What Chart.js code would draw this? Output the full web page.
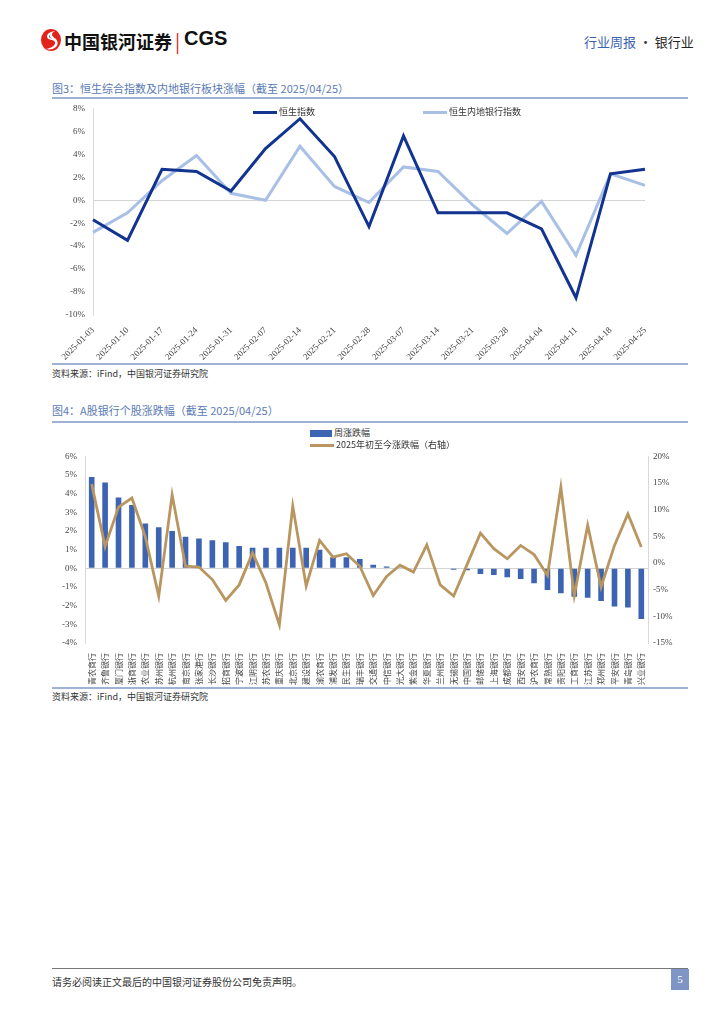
<!DOCTYPE html>
<html>
<head>
<meta charset="utf-8">
<script src="https://cdn.jsdelivr.net/npm/chart.js@4.4.1/dist/chart.umd.min.js"></script>
<style>
  body { margin: 0; width: 724px; height: 1024px; position: relative; overflow: hidden; background: #fff;
         font-family: "Noto Sans CJK SC", sans-serif; color: #222; }
  .abs { position: absolute; white-space: nowrap; }
  .fig-title { font-size: 11px; color: #5a7ab5; }
  .rule { position: absolute; height: 1.5px; background: #9fb2d6; }
  .src { font-size: 9px; color: #333; }
  .lg { font-size: 9px; color: #333; }
  .sw-line { display: inline-block; width: 24px; height: 3px; vertical-align: middle; margin-right: 2px; }
  .sw-bar { display: inline-block; width: 22px; height: 7px; vertical-align: middle; margin-right: 2px; }
</style>
</head>
<body>

<!-- en-tête -->
<svg class="abs" style="left:40px;top:28px" width="22" height="24" viewBox="0 0 22 24">
  <ellipse cx="11" cy="12" rx="10" ry="11" fill="#e2231a"/>
  <path d="M15 3 C6 4, 4 11, 12 12 C18 13, 15 20, 6 21 C14 23, 21 17, 16 11 C12 8, 10 6, 15 3 Z" fill="#fff"/>
  <path d="M13 5 C8 7, 8 10, 12 10.5 C8 9, 10 6, 13 5 Z" fill="#1b3f94"/>
</svg>
<div class="abs" style="left:64px;top:28px;font-size:18px;font-weight:bold;color:#111">中国银河证券</div>
<div class="abs" style="left:175px;top:27px;font-size:19px;color:#e2231a">|</div>
<div class="abs" style="left:184px;top:27px;font-size:20px;font-weight:bold;color:#111;font-family:'Liberation Sans',sans-serif">CGS</div>
<div class="abs" style="left:584px;top:32px;font-size:13px;color:#3a62b0">行业周报 <span style="color:#333">·</span> <span style="color:#222">银行业</span></div>

<!-- figure 3 -->
<div class="abs fig-title" style="left:52px;top:80px">图3：恒生综合指数及内地银行板块涨幅（截至 2025/04/25）</div>
<div class="rule" style="left:52px;top:97px;width:636px"></div>
<canvas id="hsChart" class="abs" style="left:40px;top:95px" width="630" height="268"></canvas>
<div class="abs lg" style="left:253px;top:105px"><span class="sw-line" id="lg1a"></span>恒生指数</div>
<div class="abs lg" style="left:423px;top:105px"><span class="sw-line" id="lg1b"></span>恒生内地银行指数</div>
<div class="rule" style="left:52px;top:363px;width:636px"></div>
<div class="abs src" style="left:52px;top:367px">资料来源：iFind，中国银河证券研究院</div>

<!-- figure 4 -->
<div class="abs fig-title" style="left:52px;top:402px">图4：A股银行个股涨跌幅（截至 2025/04/25）</div>
<div class="rule" style="left:52px;top:421px;width:636px"></div>
<canvas id="bankChart" class="abs" style="left:40px;top:443px" width="640" height="243"></canvas>
<div class="abs lg" style="left:310px;top:426px"><span class="sw-bar" id="lg2a"></span>周涨跌幅</div>
<div class="abs lg" style="left:310px;top:438px"><span class="sw-line" id="lg2b"></span>2025年初至今涨跌幅（右轴）</div>
<div class="rule" style="left:52px;top:687px;width:636px"></div>
<div class="abs src" style="left:52px;top:690px">资料来源：iFind，中国银河证券研究院</div>

<!-- pied de page -->
<div class="abs" style="left:52px;top:968px;width:636px;height:1px;background:#777"></div>
<div class="abs" style="left:52px;top:974px;font-size:10px;color:#333">请务必阅读正文最后的中国银河证券股份公司免责声明。</div>
<div class="abs" style="left:671px;top:969px;width:18px;height:21px;background:#7f95c6;color:#fff;font-size:11px;text-align:center;line-height:21px;font-family:'Liberation Serif',serif">5</div>

<script>
// données fig.3 : variation hebdo (%)
const weekDates = ['2025-01-03','2025-01-10','2025-01-17','2025-01-24','2025-01-31','2025-02-07','2025-02-14',
  '2025-02-21','2025-02-28','2025-03-07','2025-03-14','2025-03-21','2025-03-28','2025-04-04','2025-04-11',
  '2025-04-18','2025-04-25'];
const hsiChange = [-1.7, -3.5, 2.7, 2.5, 0.8, 4.5, 7.1, 3.8, -2.3, 5.6, -1.1, -1.1, -1.1, -2.5, -8.5, 2.3, 2.7];
const hsBankChange = [-2.8, -1.1, 1.7, 3.9, 0.6, 0.0, 4.7, 1.2, -0.2, 2.9, 2.5, -0.4, -2.9, -0.1, -4.8, 2.3, 1.3];
const hsTicks = { min: -10, max: 8, step: 2 };

// données fig.4 : banques A
const bankNames = ['青农商行','齐鲁银行','厦门银行','浙商银行','农业银行','苏州银行','杭州银行','南京银行',
  '张家港行','长沙银行','招商银行','宁波银行','江阴银行','苏农银行','重庆银行','北京银行','建设银行',
  '渝农商行','浦发银行','民生银行','瑞丰银行','交通银行','中信银行','光大银行','紫金银行','华夏银行',
  '兰州银行','无锡银行','中国银行','邮储银行','上海银行','成都银行','西安银行','沪农商行','常熟银行',
  '贵阳银行','工商银行','江苏银行','郑州银行','平安银行','青岛银行','兴业银行'];
const weekChange = [4.9, 4.6, 3.8, 3.4, 2.4, 2.2, 2.0, 1.7, 1.6, 1.5, 1.4, 1.2, 1.1, 1.1, 1.1, 1.1, 1.1,
  1.0, 0.6, 0.6, 0.5, 0.2, 0.1, 0.02, 0, 0, 0, -0.07, -0.1, -0.3, -0.35, -0.48, -0.57, -0.8, -1.16,
  -1.34, -1.52, -1.57, -1.75, -2.05, -2.1, -2.71];
const ytdChange = [14.8, 3.1, 10.5, 12.2, 4.9, -6.2, 12.8, -0.6, -0.75, -3.1, -7.0, -4.1, 1.9, -3.75,
  -11.6, 10.7, -4.3, 4.25, 1.1, 1.75, -0.6, -6.1, -2.5, -0.4, -1.7, 3.4, -4.1, -6.2, -0.3, 5.6, 2.7,
  0.8, 3.3, 1.6, -2.3, 14.2, -6.1, 7.1, -4.5, 3.3, 9.2, 3.0];
const leftTicks = { min: -4, max: 6, step: 1 };
const rightTicks = { min: -15, max: 20, step: 5 };

const DARK = '#12338f', LIGHT = '#a8bfe6', BAR = '#3d64b2', TAN = '#b9965f';
const tickFont = { family: "'Liberation Serif', 'Noto Sans CJK SC', serif", size: 9 };
const zeroGrid = ctx => ctx.tick && ctx.tick.value === 0 ? '#d4d4d4' : 'rgba(0,0,0,0)';

document.getElementById('lg1a').style.background = DARK;
document.getElementById('lg1b').style.background = LIGHT;
document.getElementById('lg2a').style.background = BAR;
document.getElementById('lg2b').style.background = TAN;

Chart.defaults.animation = false;
Chart.defaults.color = '#444';

new Chart(document.getElementById('hsChart'), {
  type: 'line',
  data: {
    labels: weekDates,
    datasets: [
      { label: '恒生指数', data: hsiChange, borderColor: DARK, borderWidth: 3, pointRadius: 0, tension: 0 },
      { label: '恒生内地银行指数', data: hsBankChange, borderColor: LIGHT, borderWidth: 3, pointRadius: 0, tension: 0 }
    ]
  },
  options: {
    responsive: false,
    layout: { padding: { top: 0, right: 25, left: 0, bottom: 0 } },
    plugins: { legend: { display: false }, tooltip: { enabled: false } },
    scales: {
      x: {
        offset: false,
        grid: { display: false },
        border: { display: false },
        ticks: { font: { family: tickFont.family, size: 9 }, color: '#444', autoSkip: false, minRotation: 45, maxRotation: 45, padding: 2 },
        afterFit: s => { s.height = 48; }
      },
      y: {
        min: hsTicks.min, max: hsTicks.max,
        grid: { color: zeroGrid, drawTicks: false },
        border: { color: '#d9d9d9' },
        ticks: { stepSize: hsTicks.step, font: tickFont, color: '#444', padding: 8, callback: v => v + '%' },
        afterFit: s => { s.width = 53; }
      }
    }
  }
});

new Chart(document.getElementById('bankChart'), {
  data: {
    labels: bankNames,
    datasets: [
      { type: 'line', label: '2025年初至今涨跌幅（右轴）', data: ytdChange, yAxisID: 'y2', borderColor: TAN, borderWidth: 2.8, pointRadius: 0, tension: 0 },
      { type: 'bar', label: '周涨跌幅', data: weekChange, yAxisID: 'y', backgroundColor: BAR, categoryPercentage: 1, barPercentage: 0.42 }
    ]
  },
  options: {
    responsive: false,
    layout: { padding: { top: 0, right: 0, left: 0, bottom: 0 } },
    plugins: { legend: { display: false }, tooltip: { enabled: false } },
    scales: {
      x: {
        grid: { display: false },
        border: { display: false },
        ticks: { font: { family: "'Noto Sans CJK SC', sans-serif", size: 8 }, color: '#444', autoSkip: false, minRotation: 90, maxRotation: 90, padding: 2 },
        afterFit: s => { s.height = 43; }
      },
      y: {
        position: 'left',
        min: leftTicks.min, max: leftTicks.max,
        grid: { color: zeroGrid, drawTicks: false },
        border: { color: '#d9d9d9' },
        ticks: { stepSize: leftTicks.step, font: tickFont, color: '#444', padding: 8, callback: v => v + '%' },
        afterFit: s => { s.width = 45; }
      },
      y2: {
        position: 'right',
        min: rightTicks.min, max: rightTicks.max,
        grid: { display: false, drawTicks: false },
        border: { color: '#d9d9d9' },
        ticks: { stepSize: rightTicks.step, font: tickFont, color: '#444', padding: 5, callback: v => v + '%' },
        afterFit: s => { s.width = 32; }
      }
    }
  }
});
</script>
</body>
</html>
